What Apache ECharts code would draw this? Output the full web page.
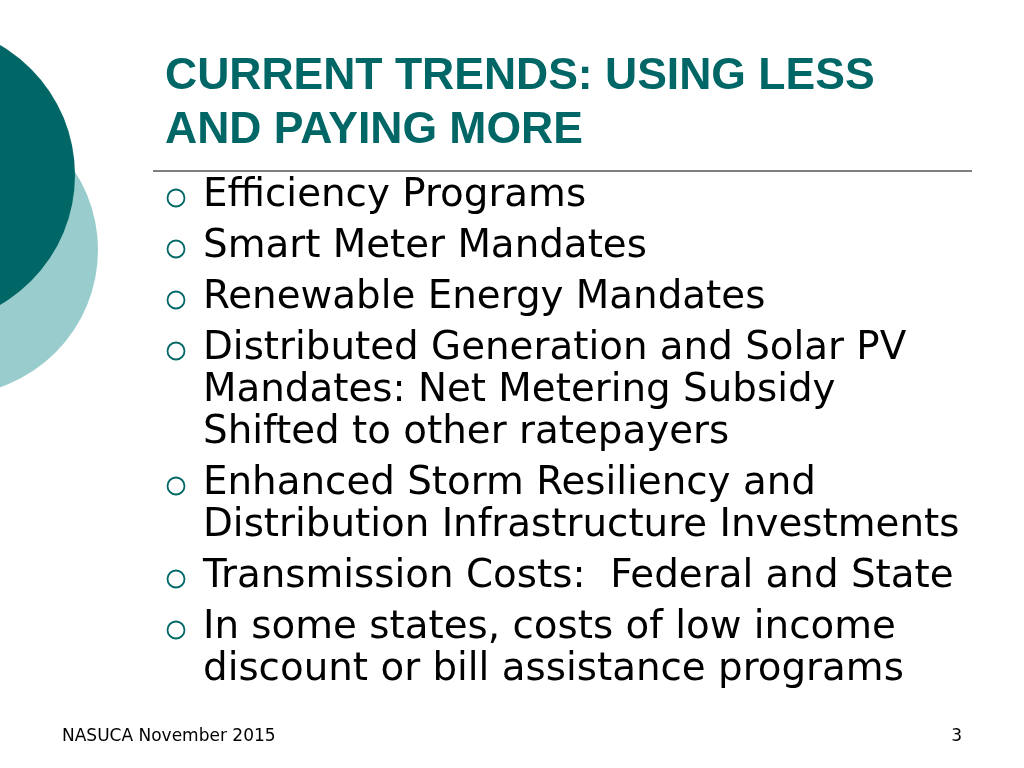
<!DOCTYPE html>
<html>
<head>
<meta charset="utf-8">
<script src="https://cdn.jsdelivr.net/npm/echarts@6/dist/echarts.min.js"></script>
<style>html,body{margin:0;padding:0;background:#fff}#main{width:1024px;height:768px}</style>
</head>
<body>
<div id="main"></div>
<script>
// slide content
const titleLines = ['CURRENT TRENDS: USING LESS', 'AND PAYING MORE'];
const bullets = [
    ['Efficiency Programs'],
    ['Smart Meter Mandates'],
    ['Renewable Energy Mandates'],
    ['Distributed Generation and Solar PV', 'Mandates: Net Metering Subsidy', 'Shifted to other ratepayers'],
    ['Enhanced Storm Resiliency and', 'Distribution Infrastructure Investments'],
    ['Transmission Costs:  Federal and State'],
    ['In some states, costs of low income', 'discount or bill assistance programs']
];
const footerLeft = 'NASUCA November 2015';
const footerRight = '3';

var myChart = echarts.init(document.getElementById('main'));
var teal = '#006666';
var g = [];
g.push({type: 'circle', shape: {cx: -47, cy: 250, r: 145}, style: {fill: '#99cccc'}});
g.push({type: 'circle', shape: {cx: -75, cy: 175, r: 150}, style: {fill: teal}});
titleLines.forEach(function (t, i) {
    g.push({type: 'text', x: 165, y: 77 + i * 54, style: {text: t, fill: teal,
        font: 'bold 44.5px "Liberation Sans", Arial', verticalAlign: 'middle'}});
});
g.push({type: 'line', shape: {x1: 153, y1: 171, x2: 972, y2: 171}, style: {stroke: '#000', lineWidth: 1.2}});
var y = 196;
bullets.forEach(function (b) {
    g.push({type: 'circle', shape: {cx: 176, cy: y + 2, r: 8.5}, style: {fill: 'none', stroke: teal, lineWidth: 1.8}});
    b.forEach(function (line, j) {
        g.push({type: 'text', x: 203, y: y + j * 42, style: {text: line, fill: '#000',
            font: '38.8px "DejaVu Sans", Verdana', verticalAlign: 'middle'}});
    });
    y += (b.length - 1) * 42 + 51;
});
g.push({type: 'text', x: 62, y: 737, style: {text: footerLeft, fill: '#000', font: '17px "DejaVu Sans"', verticalAlign: 'middle'}});
g.push({type: 'text', x: 962, y: 737, style: {text: footerRight, fill: '#000', font: '17px "DejaVu Sans"', verticalAlign: 'middle', align: 'right'}});

myChart.setOption({animation: false, graphic: g});
</script>
</body>
</html>
